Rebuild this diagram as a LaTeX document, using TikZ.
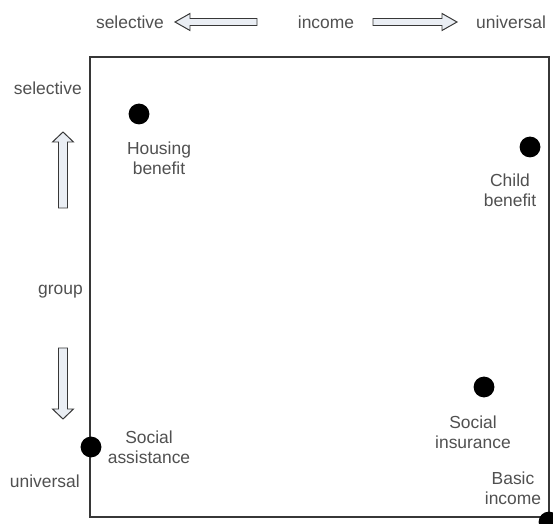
\documentclass[tikz,border=0pt]{standalone}
\usepackage{fontspec}
\setmainfont{Liberation Sans}
\usepackage{tikz}
\usetikzlibrary{positioning}
\definecolor{frameGray}{RGB}{55,55,55}
\definecolor{labelGray}{RGB}{80,80,80}
\definecolor{arrowFill}{RGB}{234,238,244}
\tikzstyle{axislabel}=[font=\fontsize{12.4}{14.2}\selectfont, text=labelGray, inner sep=0pt]
\tikzstyle{pointlabel}=[axislabel, align=center]
\tikzstyle{scheme}=[circle, fill=black, inner sep=0pt, minimum size=0.52cm]
\tikzstyle{hollowarrow}=[draw=frameGray, fill=arrowFill, line width=0.7pt, line join=miter]

\begin{document}
\begin{tikzpicture}[x=0.025cm, y=-0.025cm]
    \useasboundingbox (0,0) rectangle (553,524);

    % Rahmen
    \draw[frameGray, line width=1.3pt] (90,57) rectangle (549,517);

    % Achse Einkommen (oben)
    \node[axislabel] (incsel) at (130,22) {selective};
    \node[axislabel] (inc) at (326,22) {income};
    \node[axislabel] (incuni) at (511,22) {universal};
    \draw[hollowarrow] (175,22) -- (190,13.5) -- (190,18.5) -- (257,18.5)
      -- (257,25.5) -- (190,25.5) -- (190,30.5) -- cycle;
    \draw[hollowarrow] (457,22) -- (442,13.5) -- (442,18.5) -- (373,18.5)
      -- (373,25.5) -- (442,25.5) -- (442,30.5) -- cycle;

    % Achse Gruppe (links)
    \node[axislabel, anchor=east] (grpsel) at (82,88) {selective};
    \node[axislabel, anchor=east] (grp) at (83,292) {group};
    \node[axislabel, anchor=east] (grpuni) at (80,481) {universal};
    \draw[hollowarrow] (63,132) -- (52.5,142) -- (58.5,142) -- (58.5,208)
      -- (67.5,208) -- (67.5,142) -- (73.5,142) -- cycle;
    \draw[hollowarrow] (63,419) -- (52.5,409) -- (58.5,409) -- (58.5,348)
      -- (67.5,348) -- (67.5,409) -- (73.5,409) -- cycle;

    % Leistungen
    \node[scheme] (housing) at (139,114) {};
    \node[pointlabel] (housinglbl) at (159,158) {Housing\\benefit};

    \node[scheme] (child) at (530,147) {};
    \node[pointlabel] (childlbl) at (510,190) {Child\\benefit};

    \node[scheme] (insurance) at (484,387) {};
    \node[pointlabel] (insurancelbl) at (473,432) {Social\\insurance};

    \node[scheme] (assistance) at (91,447) {};
    \node[pointlabel] (assistancelbl) at (149,447) {Social\\assistance};

    \node[scheme] (basic) at (549,522) {};
    \node[pointlabel] (basiclbl) at (513,488) {Basic\\income};
  \end{tikzpicture}
\end{document}
